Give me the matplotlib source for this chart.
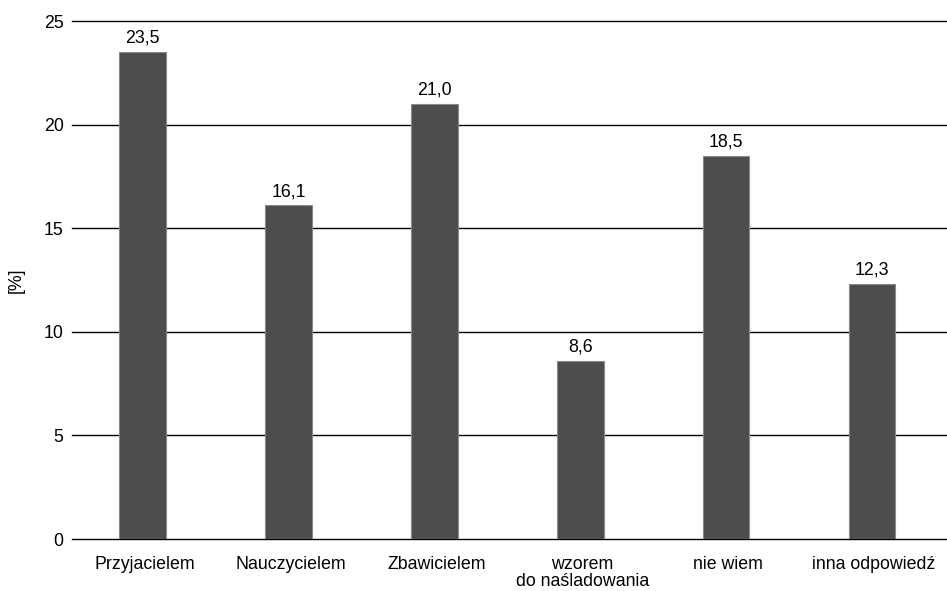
import matplotlib.pyplot as plt
import numpy as np

categories = ["Przyjacielem", "Nauczycielem", "Zbawicielem",
              "wzorem\ndo naśladowania", "nie wiem", "inna odpowiedź"]
values = [23.5, 16.1, 21.0, 8.6, 18.5, 12.3]
yticks = [0, 5, 10, 15, 20, 25]

plt.rcParams['font.family'] = ['Liberation Sans', 'DejaVu Sans']
fs = 12.8

fig = plt.figure(figsize=(9.47, 5.91), dpi=100, facecolor='white')
ax = fig.add_axes([72 / 947, 1 - 539 / 591, 1 - 72 / 947, (539 - 21) / 591])

x = np.arange(len(categories))
for t in yticks:
    ax.axhline(t, color='black', linewidth=1.0, zorder=0, clip_on=False)
ax.bar(x - 0.015, values, width=0.32, color='#4d4d4d', edgecolor='#8a8a8a',
       linewidth=0.8, zorder=2)

for xi, v in zip(x, values):
    ax.text(xi - 0.015, v + 0.25, f"{v:.1f}".replace('.', ','), ha='center',
            va='bottom', fontsize=fs)

ax.set_xlim(-0.5, len(categories) - 0.5)
ax.set_ylim(0, 25)
ax.set_yticks(yticks)
ax.set_xticks(x)
ax.set_xticklabels(categories, fontsize=fs, linespacing=1.05)
ax.tick_params(axis='y', length=0, pad=6, labelsize=fs)
ax.tick_params(axis='x', length=0, pad=12)
for s in ax.spines.values():
    s.set_visible(False)
ax.set_ylabel("[%]", fontsize=fs, labelpad=14)

fig.savefig("out.png", dpi=100, facecolor='white')
